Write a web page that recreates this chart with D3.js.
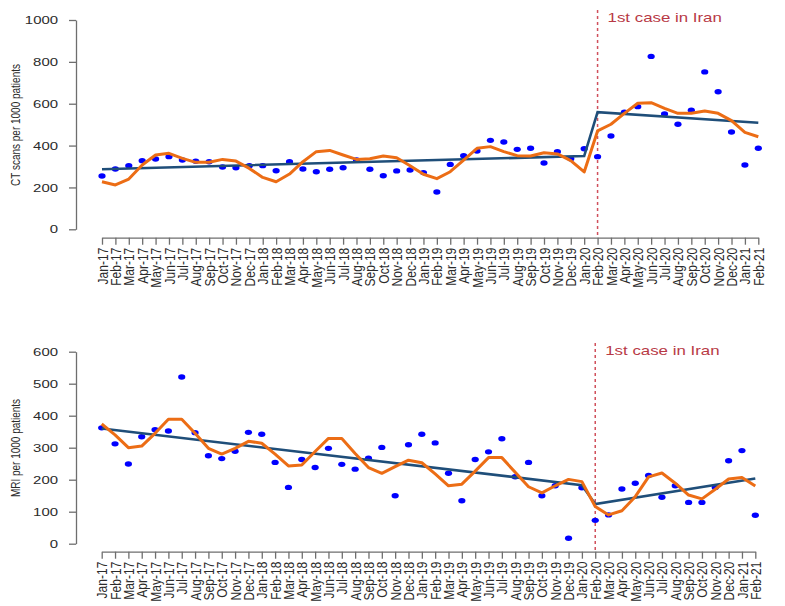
<!DOCTYPE html>
<html lang="en">
<head>
<meta charset="UTF-8">
<title>CT and MRI per 1000 patients</title>
<script src="https://d3js.org/d3.v7.min.js"></script>
<style>
  body { margin: 0; background: #fff; }
  text { font-family: "Liberation Sans", Arial, sans-serif; fill: #2b2b2b; }
</style>
</head>
<body>
<div id="chart"></div>
<script>
// month labels, Jan-17 .. Feb-21
var months = ["Jan-17","Feb-17","Mar-17","Apr-17","May-17","Jun-17","Jul-17","Aug-17","Sep-17","Oct-17","Nov-17","Dec-17",
  "Jan-18","Feb-18","Mar-18","Apr-18","May-18","Jun-18","Jul-18","Aug-18","Sep-18","Oct-18","Nov-18","Dec-18",
  "Jan-19","Feb-19","Mar-19","Apr-19","May-19","Jun-19","Jul-19","Aug-19","Sep-19","Oct-19","Nov-19","Dec-19",
  "Jan-20","Feb-20","Mar-20","Apr-20","May-20","Jun-20","Jul-20","Aug-20","Sep-20","Oct-20","Nov-20","Dec-20",
  "Jan-21","Feb-21"];

// CT scans per 1000 patients
var ctObserved = [255,288,304,328,336,347,331,325,323,298,294,304,
  304,280,323,288,275,287,294,331,287,256,279,283,
  271,178,310,352,374,425,417,382,387,317,371,337,
  385,347,446,559,586,826,551,502,569,752,657,465,
  307,387];
var ctSmooth = [227,212,240,307,355,363,339,320,320,334,326,291,
  248,227,264,323,371,377,355,334,337,350,342,304,
  263,242,275,331,387,395,371,352,350,366,360,328,
  274,470,502,554,602,605,578,554,554,565,554,519,
  463,442];
// segmented trend: [start month, end month, start value, end value]
var ctTrendPre = ["Jan-17","Jan-20",287,350];
var ctTrendPost = ["Feb-20","Feb-21",560,509];
var ctTicks = [0,200,400,600,800,1000];

// MRI per 1000 patients
var mriObserved = [362,312,249,334,356,352,521,347,275,266,289,348,
  342,254,176,263,238,298,248,233,267,301,150,309,
  342,315,220,134,263,287,328,209,254,150,181,17,
  175,73,90,171,189,213,145,181,129,129,176,259,
  291,89];
var mriSmooth = [374,340,300,305,345,389,389,345,298,280,298,320,
  314,280,243,246,288,329,329,282,238,220,241,261,
  253,218,181,186,227,269,269,223,178,159,181,201,
  194,116,90,103,147,209,221,189,152,140,170,202,
  207,180];
var mriTrendPre = ["Jan-17","Jan-20",360,183];
var mriTrendPost = ["Feb-20","Feb-21",124,204];
var mriTicks = [0,100,200,300,400,500,600];

var eventMonth = "Feb-20";
var eventLabel = "1st case in Iran";

var W = 785, H = 606;
var SX = 1.3; // source picture is stretched sideways

var svg = d3.select("#chart").append("svg")
  .attr("width", W).attr("height", H);

function drawPanel(p) {
  var g = svg.append("g");

  var x = d3.scalePoint().domain(months).range([p.xLeft, p.xRight]);
  var y = d3.scaleLinear().domain([0, d3.max(p.ticks)]).range([p.yZero, p.yTop]);

  // y axis
  var yAxis = g.append("g")
    .attr("transform", "translate(76,0)")
    .call(d3.axisLeft(y).tickValues(p.ticks).tickFormat(d3.format("d"))
      .tickSize(7).tickSizeOuter(0).tickPadding(6.8));
  yAxis.selectAll("path, line").attr("stroke", "#6e6e6e").attr("stroke-width", 1.3);
  yAxis.selectAll("text")
    .attr("font-size", 11.5).attr("fill", "#2b2b2b")
    .attr("transform", "scale(" + SX + ",1)");

  // x axis
  var xAxis = g.append("g")
    .attr("transform", "translate(0," + p.xAxisY + ")")
    .call(d3.axisBottom(x).tickSize(7).tickSizeOuter(0));
  xAxis.selectAll("path, line").attr("stroke", "#6e6e6e").attr("stroke-width", 1.3);
  xAxis.selectAll("text").remove();
  xAxis.selectAll(".tick").append("text")
    .attr("transform", "translate(0,10) scale(1.2,1) rotate(-90)")
    .attr("text-anchor", "end")
    .attr("dy", "0.35em")
    .attr("font-size", 12)
    .attr("fill", "#2b2b2b")
    .text(function(d) { return d; });

  // y axis title
  g.append("text")
    .attr("transform", "translate(15," + p.titleY + ") scale(1.35,1) rotate(-90)")
    .attr("text-anchor", "middle")
    .attr("dy", "0.35em")
    .attr("font-size", 10)
    .text(p.title);

  // event line
  g.append("line")
    .attr("x1", x(eventMonth)).attr("x2", x(eventMonth))
    .attr("y1", p.eventTop).attr("y2", p.xAxisY)
    .attr("stroke", "#d0505c").attr("stroke-width", 1.5)
    .attr("stroke-dasharray", "3,3");
  g.append("text")
    .attr("transform", "translate(" + (x(eventMonth) + 10) + "," + p.eventTextY + ") scale(1.35,1)")
    .attr("font-size", 12.5)
    .style("fill", "#b83a46")
    .text(eventLabel);

  // observed points
  g.selectAll(".pt").data(p.observed).enter().append("ellipse")
    .attr("class", "pt")
    .attr("cx", function(d, i) { return x(months[i]); })
    .attr("cy", function(d) { return y(d); })
    .attr("rx", 3.6).attr("ry", 2.7)
    .attr("fill", "#0000ff");

  // segmented trend
  var trendLine = d3.line()
    .x(function(d) { return x(d[0]); })
    .y(function(d) { return y(d[1]); });
  var tr = [[p.pre[0], p.pre[2]], [p.pre[1], p.pre[3]], [p.post[0], p.post[2]], [p.post[1], p.post[3]]];
  g.append("path")
    .attr("d", trendLine(tr))
    .attr("fill", "none")
    .attr("stroke", "#1f4e79")
    .attr("stroke-width", 2.6);

  // smoothed series
  var smoothLine = d3.line()
    .x(function(d, i) { return x(months[i]); })
    .y(function(d) { return y(d); });
  g.append("path")
    .attr("d", smoothLine(p.smooth))
    .attr("fill", "none")
    .attr("stroke", "#ec6d15")
    .attr("stroke-width", 3)
    .attr("stroke-linejoin", "round");
}

drawPanel({
  observed: ctObserved, smooth: ctSmooth, pre: ctTrendPre, post: ctTrendPost, ticks: ctTicks,
  title: "CT scans per 1000 patients",
  xLeft: 102, xRight: 758.3, yZero: 229.3, yTop: 20, xAxisY: 237.7,
  titleY: 125, eventTop: 10, eventTextY: 22
});

drawPanel({
  observed: mriObserved, smooth: mriSmooth, pre: mriTrendPre, post: mriTrendPost, ticks: mriTicks,
  title: "MRI per 1000 patients",
  xLeft: 101.7, xRight: 755.3, yZero: 543.7, yTop: 351.7, xAxisY: 551.7,
  titleY: 448, eventTop: 343, eventTextY: 355
});
</script>
</body>
</html>
